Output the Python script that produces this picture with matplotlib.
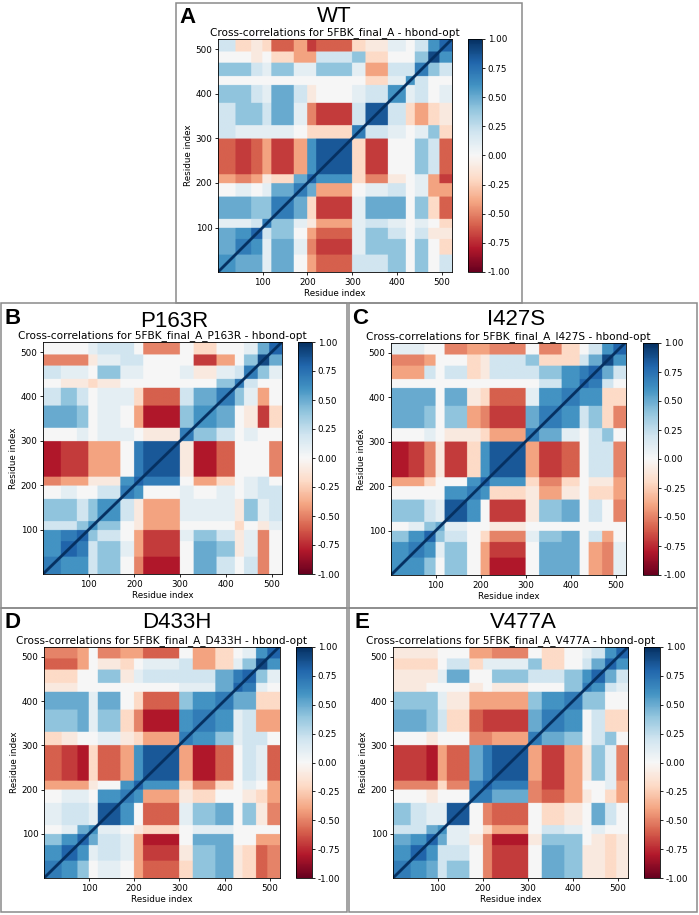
import numpy as np
import matplotlib
matplotlib.use("Agg")
import matplotlib.pyplot as plt
from matplotlib.patches import Rectangle

# residue segments used to summarise the cross-correlation maps (start of each block)
edges = [1, 40, 75, 100, 120, 170, 200, 220, 300, 330, 380, 420, 440, 470, 495, 523]
n_res = 522
diag_width = 4

ticks = [100, 200, 300, 400, 500]
cbar_ticks = [-1.0, -0.75, -0.5, -0.25, 0.0, 0.25, 0.5, 0.75, 1.0]

# upper triangle of the block-averaged correlation, row i holds blocks i..end
wt_blocks = [
    [0.6, 0.5, 0.5, 0.1, 0.5, 0.0, -0.4, -0.6, 0.2, 0.2, 0.4, 0.0, 0.4, 0.0, 0.2],
    [0.7, 0.6, 0.1, 0.5, 0.1, -0.5, -0.7, 0.1, 0.4, 0.4, 0.0, 0.4, 0.0, -0.2],
    [0.8, 0.2, 0.4, 0.0, -0.4, -0.6, 0.1, 0.4, 0.2, 0.0, 0.2, -0.1, -0.1],
    [0.7, 0.4, 0.1, -0.1, -0.4, 0.1, 0.2, 0.1, 0.0, 0.1, 0.0, -0.2],
    [0.7, 0.5, -0.2, -0.7, 0.1, 0.5, 0.5, 0.0, 0.4, -0.2, -0.6],
    [0.7, 0.5, -0.4, 0.0, 0.1, 0.2, 0.0, 0.1, -0.4, -0.4],
    [0.8, 0.6, -0.2, -0.5, -0.1, 0.0, 0.1, -0.4, -0.7],
    [0.85, -0.2, -0.7, 0.0, 0.0, 0.4, 0.2, -0.6],
    [0.7, 0.2, 0.1, 0.0, 0.1, 0.4, -0.2],
    [0.85, 0.2, -0.2, -0.4, -0.2, -0.1],
    [0.6, 0.1, 0.2, 0.0, 0.1],
    [0.6, 0.2, 0.0, 0.0],
    [0.7, 0.4, 0.2],
    [0.9, 0.6],
    [0.8],
]

p163r_blocks = [
    [0.7, 0.6, 0.6, 0.2, 0.4, 0.0, -0.5, -0.8, 0.0, 0.5, 0.2, 0.0, 0.2, -0.5, 0.0],
    [0.8, 0.7, 0.2, 0.4, 0.1, -0.4, -0.7, 0.0, 0.5, 0.4, -0.1, 0.1, -0.5, 0.0],
    [0.8, 0.4, 0.2, 0.0, -0.4, -0.7, 0.1, 0.4, 0.2, -0.1, 0.1, -0.5, 0.0],
    [0.6, 0.4, 0.0, -0.1, -0.4, 0.0, 0.0, 0.0, -0.2, 0.0, -0.1, 0.1],
    [0.6, 0.2, -0.1, -0.4, 0.1, 0.1, 0.1, -0.1, 0.4, 0.1, 0.2],
    [0.7, 0.6, 0.0, 0.1, 0.0, 0.1, 0.0, 0.1, 0.2, 0.2],
    [0.8, 0.7, 0.0, -0.4, -0.2, 0.0, 0.1, 0.2, 0.0],
    [0.85, -0.1, -0.8, -0.6, 0.0, 0.0, 0.0, -0.5],
    [0.7, 0.4, 0.2, 0.0, 0.1, 0.0, 0.0],
    [0.6, 0.5, 0.0, -0.1, -0.7, -0.2],
    [0.7, 0.4, 0.1, -0.4, 0.0],
    [0.7, 0.2, 0.0, 0.0],
    [0.7, 0.4, 0.1],
    [0.9, 0.5],
    [0.8],
]

i427s_blocks = [
    [0.6, 0.6, 0.4, 0.0, 0.4, 0.0, -0.4, -0.8, 0.0, 0.5, 0.5, 0.0, -0.4, -0.5, 0.1],
    [0.7, 0.6, 0.1, 0.4, 0.0, -0.4, -0.7, 0.0, 0.5, 0.5, 0.0, -0.4, -0.5, 0.1],
    [0.8, 0.4, 0.2, 0.0, -0.2, -0.5, 0.1, 0.4, 0.5, 0.0, 0.2, -0.4, 0.0],
    [0.5, 0.1, 0.0, 0.0, -0.1, 0.0, 0.0, 0.0, 0.0, 0.0, 0.0, 0.0],
    [0.85, 0.6, 0.0, -0.7, -0.1, 0.4, 0.5, 0.0, 0.2, 0.0, -0.5],
    [0.7, 0.6, -0.2, -0.1, -0.4, -0.1, 0.0, -0.2, -0.2, -0.4],
    [0.8, 0.6, -0.2, -0.5, -0.2, 0.0, -0.1, -0.1, -0.4],
    [0.85, -0.4, -0.7, -0.6, 0.0, 0.2, 0.2, -0.5],
    [0.7, 0.5, 0.1, 0.0, 0.2, 0.4, 0.0],
    [0.7, 0.6, 0.2, 0.4, -0.2, -0.5],
    [0.7, 0.6, 0.6, -0.2, -0.2],
    [0.8, 0.7, 0.2, 0.0],
    [0.8, 0.5, 0.2],
    [0.9, 0.6],
    [0.8],
]

d433h_blocks = [
    [0.7, 0.6, 0.4, 0.0, 0.1, 0.0, -0.4, -0.6, -0.2, 0.4, 0.5, -0.1, -0.2, -0.6, -0.5],
    [0.8, 0.6, 0.1, 0.2, 0.1, -0.4, -0.7, -0.1, 0.4, 0.5, -0.1, -0.2, -0.6, -0.5],
    [0.8, 0.5, 0.2, 0.1, -0.4, -0.8, 0.0, 0.5, 0.5, 0.0, 0.0, -0.4, -0.4],
    [0.6, 0.1, 0.0, -0.1, -0.2, 0.0, 0.1, 0.1, 0.0, 0.0, 0.0, 0.0],
    [0.85, 0.6, 0.0, -0.6, 0.1, 0.4, 0.5, 0.0, 0.4, -0.1, -0.5],
    [0.7, 0.6, -0.4, -0.1, -0.2, 0.0, 0.0, -0.1, -0.2, -0.4],
    [0.8, 0.6, -0.2, -0.5, -0.2, 0.0, 0.1, 0.0, -0.4],
    [0.85, -0.4, -0.8, -0.6, 0.0, 0.2, 0.1, -0.6],
    [0.7, 0.6, 0.4, 0.1, 0.2, 0.2, 0.0],
    [0.7, 0.6, 0.1, 0.2, -0.4, -0.4],
    [0.7, 0.5, 0.5, -0.2, -0.2],
    [0.8, 0.7, 0.1, 0.0],
    [0.8, 0.4, 0.1],
    [0.9, 0.6],
    [0.8],
]

v477a_blocks = [
    [0.7, 0.6, 0.5, 0.2, 0.4, 0.0, -0.5, -0.7, 0.0, 0.5, 0.4, -0.1, -0.1, -0.2, -0.1],
    [0.8, 0.6, 0.2, 0.2, 0.0, -0.5, -0.7, 0.0, 0.5, 0.4, -0.1, -0.1, -0.2, -0.1],
    [0.8, 0.5, 0.1, -0.1, -0.5, -0.8, -0.1, 0.4, 0.4, 0.0, -0.1, -0.2, -0.1],
    [0.6, 0.1, 0.0, -0.2, -0.4, 0.0, 0.2, 0.1, 0.0, 0.1, 0.0, 0.0],
    [0.85, 0.0, -0.5, -0.6, 0.0, -0.2, -0.1, 0.0, 0.5, 0.2, 0.0],
    [0.7, 0.7, 0.5, -0.5, -0.6, -0.4, -0.1, 0.0, -0.2, -0.4],
    [0.8, 0.7, -0.5, -0.7, -0.4, 0.0, 0.0, 0.1, -0.4],
    [0.85, -0.4, -0.7, -0.4, -0.1, 0.4, 0.1, -0.5],
    [0.7, 0.5, 0.4, 0.0, 0.2, 0.4, 0.0],
    [0.7, 0.6, 0.0, 0.2, -0.2, -0.2],
    [0.7, 0.4, 0.4, 0.0, 0.0],
    [0.7, 0.6, 0.2, 0.1],
    [0.8, 0.5, 0.2],
    [0.8, 0.6],
    [0.8],
]

panels = [
    ("A", "WT", "5FBK_final_A", wt_blocks),
    ("B", "P163R", "5FBK_final_A_P163R", p163r_blocks),
    ("C", "I427S", "5FBK_final_A_I427S", i427s_blocks),
    ("D", "D433H", "5FBK_final_A_D433H", d433h_blocks),
    ("E", "V477A", "5FBK_final_A_V477A", v477a_blocks),
]

# layout in pixels of the 699x915 figure: box, heatmap, colorbar, big title x/y, letter x/y
W, H = 699, 915
layout = {
    "A": dict(box=(176, 3, 522, 303), ax=(218, 39, 452, 272), cb=(468, 482), title=(334, 22), letter=(179, 7)),
    "B": dict(box=(1, 303, 347, 608), ax=(43, 342, 282, 574), cb=(298, 312), title=(174, 327), letter=(4, 308)),
    "C": dict(box=(349, 303, 697, 608), ax=(391, 343, 626, 575), cb=(643, 658), title=(516, 325), letter=(352, 308)),
    "D": dict(box=(1, 608, 347, 912), ax=(44, 647, 280, 878), cb=(296, 312), title=(177, 628), letter=(4, 612)),
    "E": dict(box=(349, 608, 697, 912), ax=(393, 647, 628, 878), cb=(644, 660), title=(523, 628), letter=(354, 612)),
}


def full_matrix(rows):
    nb = len(rows)
    b = np.zeros((nb, nb))
    for i, r in enumerate(rows):
        b[i, i:] = r
        b[i:, i] = r
    res = np.arange(1, n_res + 1)
    idx = np.searchsorted(edges, res, side="right") - 1
    m = b[idx][:, idx]
    # self correlation on the diagonal
    ii, jj = np.meshgrid(res, res)
    m[np.abs(ii - jj) <= diag_width] = 1.0
    return m


def fbox(x0, y0, x1, y1):
    return [x0 / W, 1 - y1 / H, (x1 - x0) / W, (y1 - y0) / H]


fig = plt.figure(figsize=(W / 100, H / 100), dpi=100)
fig.patch.set_facecolor("white")

for letter, name, tag, rows in panels:
    lay = layout[letter]
    bx = lay["box"]
    fig.patches.append(Rectangle((bx[0] / W, 1 - bx[3] / H), (bx[2] - bx[0]) / W, (bx[3] - bx[1]) / H,
                                 transform=fig.transFigure, fill=False, ec="#8a8a8a", lw=1.1))

    ax = fig.add_axes(fbox(*lay["ax"]))
    m = full_matrix(rows)
    im = ax.imshow(m, cmap="RdBu", vmin=-1, vmax=1, origin="lower", aspect="auto",
                   extent=(0.5, n_res + 0.5, 0.5, n_res + 0.5), interpolation="antialiased")
    ax.set_xticks(ticks)
    ax.set_yticks(ticks)
    ax.tick_params(labelsize=6.3, length=2.5, width=0.6, pad=1.5)
    for s in ax.spines.values():
        s.set_linewidth(0.6)
    ax.set_xlabel("Residue index", fontsize=6.3, labelpad=1.5)
    ax.set_ylabel("Residue index", fontsize=6.3, labelpad=1.5)
    ax.set_title("Cross-correlations for %s - hbond-opt" % tag, fontsize=7.6, pad=2.5)

    cx0, cx1 = lay["cb"]
    cax = fig.add_axes(fbox(cx0, lay["ax"][1], cx1, lay["ax"][3]))
    cb = fig.colorbar(im, cax=cax, ticks=cbar_ticks, format="%.2f")
    cb.ax.tick_params(labelsize=6.3, length=2.5, width=0.6, pad=1.5)
    cb.outline.set_linewidth(0.6)

    tx, ty = lay["title"]
    fig.text(tx / W, 1 - ty / H, name, ha="center", va="baseline", fontsize=16,
             family="Liberation Sans")
    lx, ly = lay["letter"]
    fig.text(lx / W, 1 - ly / H, letter, ha="left", va="top", fontsize=16,
             family="Liberation Sans", fontweight="bold")

fig.savefig("out.png", dpi=100)
